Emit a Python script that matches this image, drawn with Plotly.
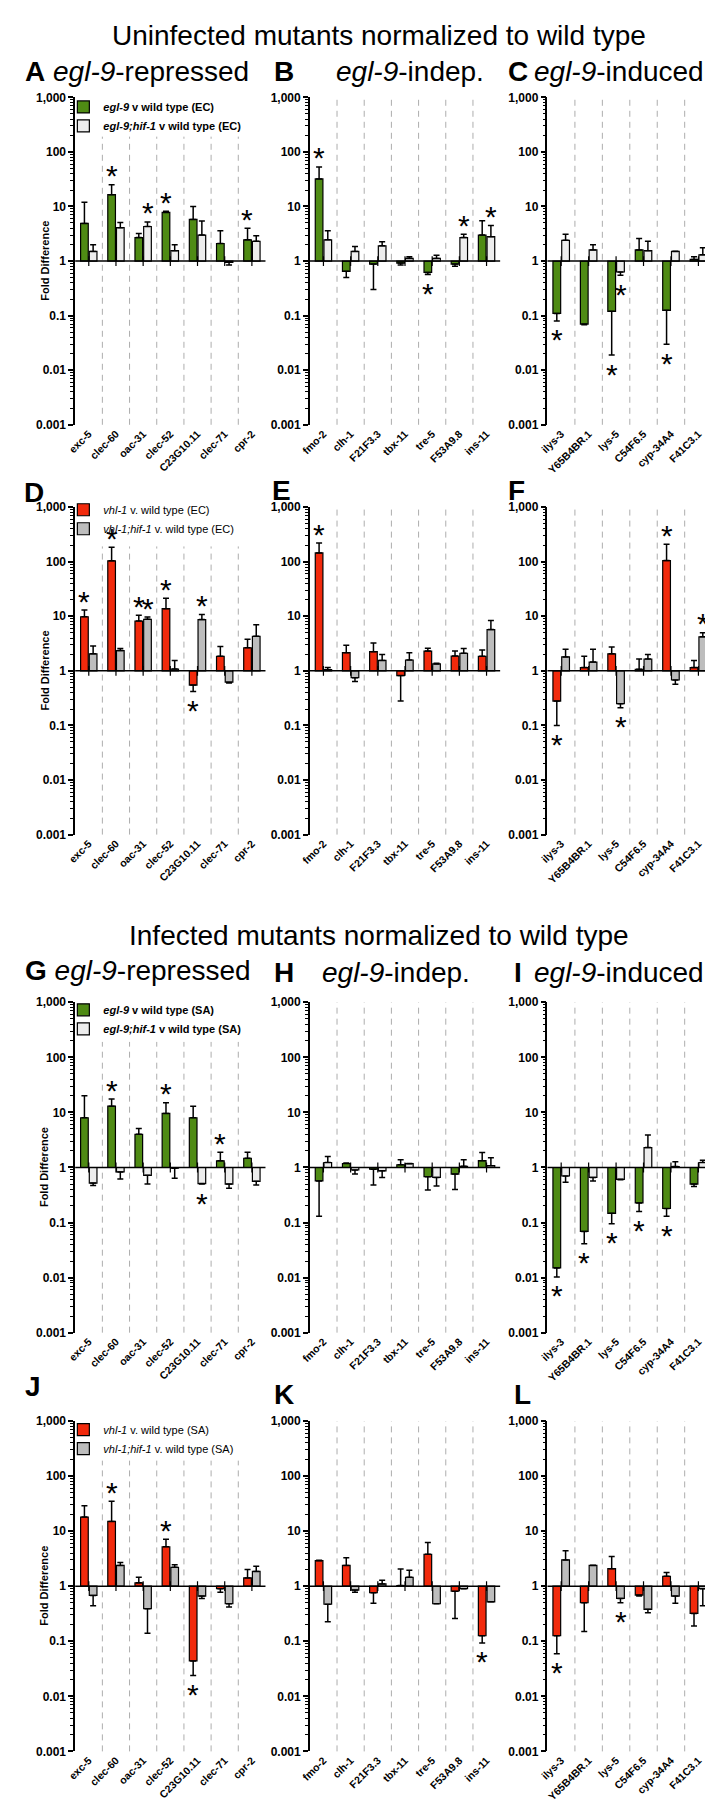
import math
import plotly.graph_objects as go

# ---------------- data ----------------
GENES_REPRESSED = ["exc-5", "clec-60", "oac-31", "clec-52", "C23G10.11", "clec-71", "cpr-2"]
GENES_INDEP = ["fmo-2", "clh-1", "F21F3.3", "tbx-11", "tre-5", "F53A9.8", "ins-11"]
GENES_INDUCED = ["ilys-3", "Y65B4BR.1", "lys-5", "C54F6.5", "cyp-34A4", "F41C3.1"]

# Panel A (uninfected, egl-9-repressed)
A_mut = [4.9, 16.5, 2.7, 7.8, 5.8, 2.1, 2.45]
A_mut_err = [12, 25, 3.2, 8.2, 10, 3.6, 4.0]
A_mut_sig = [0, 1, 0, 1, 0, 0, 1]
A_dbl = [1.5, 4.1, 4.3, 1.55, 3.0, 0.95, 2.3]
A_dbl_err = [2.0, 5.1, 5.2, 2.0, 5.4, 0.85, 2.9]
A_dbl_sig = [0, 0, 1, 0, 0, 0, 0]
# Panel B
B_mut = [32, 0.65, 0.88, 0.92, 0.62, 0.88, 3.0]
B_mut_err = [53, 0.5, 0.3, 0.85, 0.57, 0.8, 5.5]
B_mut_sig = [1, 0, 0, 0, 1, 0, 0]
B_dbl = [2.45, 1.5, 1.9, 1.12, 1.12, 2.7, 2.8]
B_dbl_err = [3.6, 1.85, 2.25, 1.2, 1.28, 3.1, 4.5]
B_dbl_sig = [0, 0, 0, 0, 0, 1, 1]
# Panel C
C_mut = [0.11, 0.07, 0.12, 1.6, 0.125, 1.07]
C_mut_err = [0.08, 0.068, 0.019, 2.6, 0.03, 1.2]
C_mut_sig = [1, 0, 1, 0, 1, 0]
C_dbl = [2.4, 1.6, 0.63, 1.55, 1.5, 1.3]
C_dbl_err = [3.1, 2.0, 0.55, 2.3, 1.52, 1.75]
C_dbl_sig = [0, 0, 1, 0, 0, 0]
# Panel D
D_mut = [9.8, 104, 8.2, 13.8, 0.55, 1.85, 2.65]
D_mut_err = [13, 185, 10.5, 21.5, 0.42, 2.8, 3.8]
D_mut_sig = [1, 1, 1, 1, 1, 0, 0]
D_dbl = [2.05, 2.35, 8.8, 1.08, 8.7, 0.62, 4.3]
D_dbl_err = [2.85, 2.58, 9.7, 1.55, 10.8, 0.6, 7.0]
D_dbl_sig = [0, 0, 1, 0, 1, 0, 0]
# Panel E
E_mut = [145, 2.15, 2.25, 0.82, 2.3, 1.87, 1.85]
E_mut_err = [220, 2.95, 3.25, 0.28, 2.6, 2.3, 2.4]
E_mut_sig = [1, 0, 0, 0, 0, 0, 0]
E_dbl = [1.05, 0.75, 1.55, 1.58, 1.34, 2.1, 5.7]
E_dbl_err = [1.15, 0.64, 2.0, 2.15, 1.38, 2.58, 8.4]
E_dbl_sig = [0, 0, 0, 0, 0, 0, 0]
# Panel F
F_mut = [0.28, 1.15, 2.05, 1.07, 105, 1.15]
F_mut_err = [0.1, 1.85, 2.75, 1.65, 210, 1.55]
F_mut_sig = [1, 0, 0, 0, 1, 0]
F_dbl = [1.8, 1.45, 0.25, 1.65, 0.68, 4.2]
F_dbl_err = [2.5, 2.5, 0.21, 2.0, 0.57, 5.0]
F_dbl_sig = [0, 0, 1, 0, 0, 1]
# Panel G (infected)
G_mut = [8.0, 13, 4.0, 9.6, 8.0, 1.32, 1.47]
G_mut_err = [20, 17.5, 5.1, 15, 13, 1.9, 1.9]
G_mut_sig = [0, 1, 0, 1, 0, 1, 0]
G_dbl = [0.52, 0.83, 0.72, 0.97, 0.51, 0.5, 0.56]
G_dbl_err = [0.47, 0.62, 0.5, 0.64, 0.5, 0.42, 0.48]
G_dbl_sig = [0, 0, 0, 0, 1, 0, 0]
# Panel H
H_mut = [0.57, 1.18, 0.93, 1.12, 0.68, 0.76, 1.33]
H_mut_err = [0.13, 1.2, 0.48, 1.38, 0.39, 0.4, 1.87]
H_mut_sig = [0, 0, 0, 0, 0, 0, 0]
H_dbl = [1.23, 0.9, 0.87, 1.17, 0.66, 1.05, 1.08]
H_dbl_err = [1.58, 0.76, 0.66, 1.18, 0.46, 1.38, 1.5]
H_dbl_sig = [0, 0, 0, 0, 0, 0, 0]
# Panel I
I_mut = [0.015, 0.069, 0.147, 0.227, 0.18, 0.5]
I_mut_err = [0.0103, 0.041, 0.095, 0.158, 0.13, 0.45]
I_mut_sig = [1, 1, 1, 1, 1, 0]
I_dbl = [0.7, 0.66, 0.61, 2.3, 1.04, 1.23]
I_dbl_err = [0.54, 0.57, 0.6, 3.9, 1.27, 1.35]
I_dbl_sig = [0, 0, 0, 0, 0, 0]
# Panel J
J_mut = [18, 15, 1.15, 5.2, 0.044, 0.9, 1.41]
J_mut_err = [29, 35, 1.45, 7.1, 0.024, 0.78, 2.0]
J_mut_sig = [0, 1, 0, 1, 1, 0, 0]
J_dbl = [0.68, 2.38, 0.39, 2.2, 0.66, 0.48, 1.85]
J_dbl_err = [0.44, 2.7, 0.14, 2.45, 0.6, 0.42, 2.3]
J_dbl_sig = [0, 0, 0, 0, 0, 0, 0]
# Panel K
K_mut = [2.9, 2.38, 0.76, 1.03, 3.8, 0.81, 0.126]
K_mut_err = [2.95, 3.3, 0.49, 2.05, 6.2, 0.26, 0.093]
K_mut_sig = [0, 0, 0, 0, 0, 0, 1]
K_dbl = [0.47, 0.85, 1.1, 1.45, 0.48, 0.9, 0.52]
K_dbl_err = [0.225, 0.78, 1.28, 1.94, 0.48, 0.9, 0.52]
K_dbl_sig = [0, 0, 0, 0, 0, 0, 0]
# Panel L
L_mut = [0.126, 0.5, 2.08, 0.69, 1.51, 0.32]
L_mut_err = [0.059, 0.15, 3.45, 0.66, 1.78, 0.19]
L_mut_sig = [1, 0, 0, 0, 0, 0]
L_dbl = [3.0, 2.38, 0.6, 0.38, 0.66, 0.9]
L_dbl_err = [4.4, 2.4, 0.5, 0.33, 0.49, 0.44]
L_dbl_sig = [0, 0, 1, 0, 0, 0]

Y_TICKS = [0.001, 0.01, 0.1, 1, 10, 100, 1000]
Y_TICKTEXT = ["0.001", "0.01", "0.1", "1", "10", "100", "1,000"]

EGL_EC = ["<b><i>egl-9</i> v wild type (EC)</b>", "<b><i>egl-9;hif-1</i> v wild type (EC)</b>"]
VHL_EC = ["<i>vhl-1</i> v. wild type (EC)", "<i>vhl-1;hif-1</i> v. wild type (EC)"]
EGL_SA = ["<b><i>egl-9</i> v wild type (SA)</b>", "<b><i>egl-9;hif-1</i> v wild type (SA)</b>"]
VHL_SA = ["<i>vhl-1</i> v. wild type (SA)", "<i>vhl-1;hif-1</i> v. wild type (SA)"]

# ---------------- styling ----------------
FONT = "Liberation Sans, Arial, Helvetica, sans-serif"
W, H = 713, 1801
COL_PX = [(58, 251), (296, 489), (537, 704)]
ROW_PX = [(83, 413), (496, 826), (995, 1328), (1417, 1750)]
GREEN = "#4f8b14"
PALE = "#ededed"
RED = "#f22a0c"
GRAY = "#bdbdbd"
BARGAP = 0.36
GROUPGAP = 0.12

panels = [
    dict(r=0, c=0, g=GENES_REPRESSED, a=A_mut, ae=A_mut_err, asg=A_mut_sig, b=A_dbl, be=A_dbl_err, bsg=A_dbl_sig, ca=GREEN, cb=PALE, lg="legend", names=EGL_EC),
    dict(r=0, c=1, g=GENES_INDEP, a=B_mut, ae=B_mut_err, asg=B_mut_sig, b=B_dbl, be=B_dbl_err, bsg=B_dbl_sig, ca=GREEN, cb=PALE, lg=None, names=EGL_EC),
    dict(r=0, c=2, g=GENES_INDUCED, a=C_mut, ae=C_mut_err, asg=C_mut_sig, b=C_dbl, be=C_dbl_err, bsg=C_dbl_sig, ca=GREEN, cb=PALE, lg=None, names=EGL_EC),
    dict(r=1, c=0, g=GENES_REPRESSED, a=D_mut, ae=D_mut_err, asg=D_mut_sig, b=D_dbl, be=D_dbl_err, bsg=D_dbl_sig, ca=RED, cb=GRAY, lg="legend2", names=VHL_EC),
    dict(r=1, c=1, g=GENES_INDEP, a=E_mut, ae=E_mut_err, asg=E_mut_sig, b=E_dbl, be=E_dbl_err, bsg=E_dbl_sig, ca=RED, cb=GRAY, lg=None, names=VHL_EC),
    dict(r=1, c=2, g=GENES_INDUCED, a=F_mut, ae=F_mut_err, asg=F_mut_sig, b=F_dbl, be=F_dbl_err, bsg=F_dbl_sig, ca=RED, cb=GRAY, lg=None, names=VHL_EC),
    dict(r=2, c=0, g=GENES_REPRESSED, a=G_mut, ae=G_mut_err, asg=G_mut_sig, b=G_dbl, be=G_dbl_err, bsg=G_dbl_sig, ca=GREEN, cb=PALE, lg="legend3", names=EGL_SA),
    dict(r=2, c=1, g=GENES_INDEP, a=H_mut, ae=H_mut_err, asg=H_mut_sig, b=H_dbl, be=H_dbl_err, bsg=H_dbl_sig, ca=GREEN, cb=PALE, lg=None, names=EGL_SA),
    dict(r=2, c=2, g=GENES_INDUCED, a=I_mut, ae=I_mut_err, asg=I_mut_sig, b=I_dbl, be=I_dbl_err, bsg=I_dbl_sig, ca=GREEN, cb=PALE, lg=None, names=EGL_SA),
    dict(r=3, c=0, g=GENES_REPRESSED, a=J_mut, ae=J_mut_err, asg=J_mut_sig, b=J_dbl, be=J_dbl_err, bsg=J_dbl_sig, ca=RED, cb=GRAY, lg="legend4", names=VHL_SA),
    dict(r=3, c=1, g=GENES_INDEP, a=K_mut, ae=K_mut_err, asg=K_mut_sig, b=K_dbl, be=K_dbl_err, bsg=K_dbl_sig, ca=RED, cb=GRAY, lg=None, names=VHL_SA),
    dict(r=3, c=2, g=GENES_INDUCED, a=L_mut, ae=L_mut_err, asg=L_mut_sig, b=L_dbl, be=L_dbl_err, bsg=L_dbl_sig, ca=RED, cb=GRAY, lg=None, names=VHL_SA),
]

LEGEND_TOP = {"legend": 78, "legend2": 484, "legend3": 988, "legend4": 1411}

fig = go.Figure()
layout = dict(
    width=W, height=H, margin=dict(l=0, r=0, t=0, b=0),
    paper_bgcolor="white", plot_bgcolor="white",
    barmode="group", bargap=BARGAP, bargroupgap=GROUPGAP,
    font=dict(family=FONT, color="black"),
    showlegend=True,
)
shapes = []
annotations = []

minor_vals = [m * 10 ** e for e in range(-3, 3) for m in range(2, 10)]

for i, p in enumerate(panels):
    n = i + 1
    xa = "x" if n == 1 else f"x{n}"
    ya = "y" if n == 1 else f"y{n}"
    xl, xr = COL_PX[p["c"]]
    yt, yb = ROW_PX[p["r"]]
    ncat = len(p["g"])
    catw = (xr - xl) / ncat
    off = catw * (1 - BARGAP) / 4.0

    series = [(p["a"], p["ae"], p["asg"], p["ca"], p["names"][0], -off),
              (p["b"], p["be"], p["bsg"], p["cb"], p["names"][1], off)]
    for vals, errs, sig, col, name, xs in series:
        up = [max(e - v, 0) if v >= 1 else 0 for v, e in zip(vals, errs)]
        dn = [max(v - e, 0) if v < 1 else 0 for v, e in zip(vals, errs)]
        tr = go.Bar(
            x=p["g"], y=[v - 1 for v in vals], base=1,
            xaxis=xa, yaxis=ya, name=name,
            marker=dict(color=col, line=dict(color="black", width=1.2)),
            error_y=dict(type="data", symmetric=False, array=up, arrayminus=dn,
                         color="black", thickness=1.5, width=3),
            showlegend=p["lg"] is not None, hoverinfo="skip",
        )
        if p["lg"] is not None:
            tr.legend = p["lg"]
        fig.add_trace(tr)
        for gname, v, e, s in zip(p["g"], vals, errs, sig):
            if not s:
                continue
            if v >= 1:
                yv, ysh = max(v, e), 9
            else:
                yv, ysh = min(v, e), -19
            annotations.append(dict(
                xref=xa, yref=ya, x=gname, y=math.log10(yv), xshift=xs, yshift=ysh,
                text="*", showarrow=False, yanchor="middle", xanchor="center",
                font=dict(family=FONT, size=30, color="black")))

    # small ticks on the y=1 baseline at category centres
    fig.add_trace(go.Scatter(
        x=p["g"], y=[1] * ncat, xaxis=xa, yaxis=ya, mode="markers",
        marker=dict(symbol="line-ns", size=7, line=dict(color="black", width=1.2)),
        showlegend=False, hoverinfo="skip"))

    layout["xaxis" if n == 1 else f"xaxis{n}"] = dict(
        type="category", domain=[xl / W, xr / W], anchor=ya,
        range=[-0.5, ncat - 0.5], categoryorder="array", categoryarray=p["g"],
        showline=False, ticks="", showgrid=False, zeroline=False,
        tickangle=-45, tickfont=dict(family=FONT, size=10.5, color="black", weight="bold"),
        fixedrange=True)
    layout["yaxis" if n == 1 else f"yaxis{n}"] = dict(
        type="log", range=[-3, 3], domain=[1 - yb / H, 1 - yt / H], anchor=xa,
        showline=True, linecolor="black", linewidth=1.5,
        ticks="outside", ticklen=5, tickwidth=1.5, tickcolor="black",
        tickmode="array", tickvals=Y_TICKS, ticktext=Y_TICKTEXT,
        tickfont=dict(family=FONT, size=12, color="black", weight="bold"),
        minor=dict(ticks="outside", ticklen=3, tickwidth=1, tickcolor="black", tickvals=minor_vals),
        showgrid=False, zeroline=False, fixedrange=True)

    # dashed separators between gene groups
    top = 0.88 if p["lg"] is not None else 1.0
    for k in range(ncat - 1):
        shapes.append(dict(type="line", xref=xa, yref=f"{ya} domain", x0=k + 0.5, x1=k + 0.5,
                           y0=0, y1=top, layer="below",
                           line=dict(color="#adadad", width=1, dash="6px,5px")))
    # baseline at fold difference = 1 (middle of the symmetric log range)
    shapes.append(dict(type="line", xref=f"{xa} domain", yref=f"{ya} domain", x0=0, x1=1,
                       y0=0.5, y1=0.5, line=dict(color="black", width=1.5)))

    if p["lg"] is not None:
        layout[p["lg"]] = dict(
            x=46 / W, y=1 - LEGEND_TOP[p["lg"]] / H, xanchor="left", yanchor="top",
            bgcolor="rgba(0,0,0,0)", font=dict(family=FONT, size=11, color="black"),
            itemwidth=30, tracegroupgap=0, traceorder="normal")
        annotations.append(dict(
            xref="paper", yref="paper", x=27 / W, y=1 - (yt + yb) / 2 / H,
            text="<b>Fold Difference</b>", textangle=-90, showarrow=False,
            xanchor="center", yanchor="middle", font=dict(family=FONT, size=11, color="black")))


def paper_text(x, y, text, size=28, anchor="left"):
    annotations.append(dict(xref="paper", yref="paper", x=x / W, y=1 - y / H, text=text,
                            showarrow=False, xanchor=anchor, yanchor="middle",
                            font=dict(family=FONT, size=size, color="black")))


paper_text(366, 21, "Uninfected mutants normalized to wild type", anchor="center")
paper_text(366, 928, "Infected mutants normalized to wild type", anchor="center")

paper_text(5, 57, "<b>A</b> <i>egl-9</i>-repressed")
paper_text(258, 57, "<b>B</b>")
paper_text(320, 57, "<i>egl-9</i>-indep.")
paper_text(495, 57, "<b>C</b>")
paper_text(521, 57, "<i>egl-9</i>-induced")
paper_text(4, 481, "<b>D</b>")
paper_text(256, 479, "<b>E</b>")
paper_text(495, 479, "<b>F</b>")
paper_text(5, 963, "<b>G</b> <i>egl-9</i>-repressed")
paper_text(258, 965, "<b>H</b>")
paper_text(306, 965, "<i>egl-9</i>-indep.")
paper_text(501, 965, "<b>I</b>")
paper_text(521, 965, "<i>egl-9</i>-induced")
paper_text(5, 1382, "<b>J</b>")
paper_text(258, 1390, "<b>K</b>")
paper_text(501, 1390, "<b>L</b>")

layout["shapes"] = shapes
layout["annotations"] = annotations
fig.update_layout(**layout)
fig.write_html("out.html")
